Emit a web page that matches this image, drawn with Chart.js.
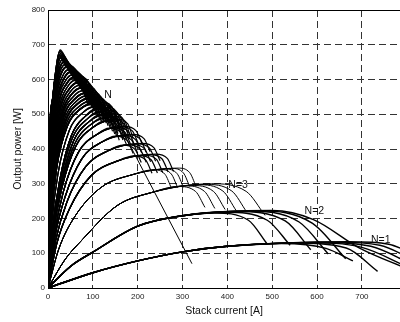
<!DOCTYPE html>
<html>
<head>
<meta charset="utf-8">
<script src="https://cdn.jsdelivr.net/npm/chart.js@4.4.1/dist/chart.umd.min.js"></script>
<style>
  html, body { margin: 0; padding: 0; background: #fff; }
</style>
</head>
<body>
<canvas id="chart" width="400" height="322"></canvas>
<script>
// axis ranges
const xMax = 785;
const yMax = 800;
const xTitle = 'Stack current [A]';
const yTitle = 'Output power [W]';

const origin = [0, 0];

// each group: shared rising part, then one tail (peak, knee, end) per curve
const riseN1 = [[100, 44], [200, 78], [300, 104], [400, 120]];
const tailsN1 = [
  [[520, 128], [620, 114], [680, 78]],
  [[550, 129], [665, 115], [735, 48]],
  [[580, 130], [700, 117], [800, 62]],
  [[610, 131], [720, 120], [810, 70]],
  [[640, 132], [740, 123], [820, 78]],
  [[670, 133], [760, 126], [830, 86]],
];

const riseN2 = [[50, 62], [100, 103], [200, 178], [300, 208]];
const tailsN2 = [
  [[370, 216], [447, 195], [488, 128]],
  [[395, 218], [489, 195], [540, 123]],
  [[420, 220], [529, 193], [586, 110]],
  [[445, 221], [560, 190], [625, 98]],
  [[470, 222], [590, 186], [664, 84]],
  [[500, 223], [592, 197], [696, 114], [800, 56]],
];

const riseN3 = [[38, 82], [75, 137], [154, 237], [229, 274]];
const tailsN3 = [
  [[290, 292], [329, 278], [350, 232]],
  [[305, 294], [349, 278], [372, 229]],
  [[320, 295], [369, 278], [395, 226]],
  [[335, 297], [390, 279], [420, 222]],
  [[350, 298], [410, 279], [443, 219]],
  [[365, 300], [442, 278], [484, 209]],
];

const riseN4 = [[24, 112], [59, 204], [118, 289], [188, 326]];
const tailsN4 = [
  [[235, 340], [261, 327], [275, 288]],
  [[249, 341], [275, 328], [289, 289]],
  [[262, 342], [288, 329], [302, 290]],
  [[276, 344], [302, 331], [316, 292]],
  [[290, 345], [316, 332], [330, 293]],
];

const riseN5 = [[19, 125], [48, 228], [96, 323], [154, 365]];
const tailsN5 = [
  [[192, 380], [218, 368], [232, 330]],
  [[204, 381], [230, 369], [244, 331]],
  [[216, 382], [242, 370], [256, 332]],
  [[228, 384], [254, 372], [268, 334]],
  [[240, 385], [266, 373], [280, 335]],
];

const riseN6 = [[17, 136], [42, 247], [84, 349], [134, 395]];
const tailsN6 = [
  [[168, 411], [194, 399], [208, 361]],
  [[179, 412], [205, 400], [219, 362]],
  [[189, 413], [215, 401], [229, 363]],
  [[200, 415], [226, 403], [240, 365]],
  [[210, 416], [236, 404], [250, 366]],
];

const riseN7 = [[15, 144], [38, 262], [75, 371], [120, 420]];
const tailsN7 = [
  [[150, 437], [176, 425], [190, 387]],
  [[160, 438], [186, 426], [200, 388]],
  [[169, 439], [195, 427], [209, 389]],
  [[179, 441], [205, 429], [219, 391]],
  [[188, 442], [214, 430], [228, 392]],
];

const riseN8 = [[14, 152], [34, 276], [68, 391], [109, 442]];
const tailsN8 = [
  [[136, 460], [162, 448], [176, 410]],
  [[145, 461], [171, 449], [185, 411]],
  [[153, 462], [179, 450], [193, 412]],
  [[162, 464], [188, 452], [202, 414]],
  [[170, 465], [196, 453], [210, 415]],
];

const riseN9 = [[12, 158], [31, 288], [62, 408], [99, 461]];
const tailsN9 = [
  [[124, 480], [147, 467], [159, 425]],
  [[132, 481], [155, 468], [167, 426]],
  [[140, 482], [163, 469], [175, 427]],
  [[147, 484], [170, 471], [182, 429]],
  [[155, 485], [178, 472], [190, 430]],
];

const riseN10 = [[11, 164], [29, 299], [57, 423], [91, 478]];
const tailsN10 = [
  [[114, 498], [137, 485], [149, 443]],
  [[121, 499], [144, 486], [156, 444]],
  [[128, 500], [151, 487], [163, 445]],
  [[135, 502], [158, 489], [170, 447]],
  [[142, 503], [165, 490], [177, 448]],
];

const riseN11 = [[10, 170], [26, 309], [52, 438], [83, 494]];
const tailsN11 = [
  [[104, 515], [127, 502], [139, 460]],
  [[111, 516], [134, 503], [146, 461]],
  [[117, 517], [140, 504], [152, 462]],
  [[124, 519], [147, 506], [159, 464]],
  [[130, 520], [153, 507], [165, 465]],
];

const riseN12 = [[8, 212], [19, 345], [43, 466], [71, 514]];
const tailsN12 = [
  [[95, 530], [118, 517], [130, 475]],
  [[101, 531], [124, 518], [136, 476]],
  [[107, 532], [130, 519], [142, 477]],
  [[113, 534], [136, 521], [148, 479]],
  [[119, 535], [142, 522], [154, 480]],
];

const riseN13 = [[7, 218], [17, 354], [39, 480], [65, 529]];
const tailsN13 = [
  [[86, 545], [107, 529], [119, 480]],
  [[92, 546], [113, 530], [125, 481]],
  [[97, 547], [118, 531], [130, 482]],
  [[103, 549], [124, 533], [136, 484]],
  [[108, 550], [129, 534], [141, 485]],
];

const riseN14 = [[6, 224], [16, 364], [35, 493], [59, 543]];
const tailsN14 = [
  [[78, 560], [99, 544], [111, 495]],
  [[83, 561], [104, 545], [116, 496]],
  [[88, 562], [109, 546], [121, 497]],
  [[92, 564], [113, 548], [125, 499]],
  [[97, 565], [118, 549], [130, 500]],
];

const riseN15 = [[6, 230], [14, 374], [32, 506], [53, 558]];
const tailsN15 = [
  [[70, 575], [91, 559], [103, 510]],
  [[76, 577], [97, 561], [109, 512]],
  [[81, 578], [102, 562], [114, 513]],
  [[87, 580], [108, 564], [120, 515]],
];

const riseN16 = [[5, 236], [12, 384], [28, 519], [47, 572]];
const tailsN16 = [
  [[62, 590], [83, 574], [95, 525]],
  [[67, 592], [88, 576], [100, 527]],
  [[72, 593], [93, 577], [105, 528]],
  [[77, 595], [98, 579], [110, 530]],
];

const riseN17 = [[4, 242], [11, 393], [24, 532], [41, 587]];
const tailsN17 = [
  [[54, 605], [77, 586], [89, 525]],
  [[58, 607], [81, 588], [93, 527]],
  [[63, 608], [86, 589], [98, 528]],
  [[67, 610], [90, 591], [102, 530]],
];

const riseN18 = [[4, 248], [9, 403], [21, 546], [35, 601]];
const tailsN18 = [
  [[46, 620], [64, 604], [81, 560]],
  [[50, 622], [68, 606], [85, 562]],
  [[54, 623], [72, 607], [89, 563]],
  [[58, 625], [76, 609], [93, 565]],
];

const riseN19 = [[3, 254], [8, 413], [18, 559], [29, 616]];
const tailsN19 = [
  [[39, 635], [55, 618], [74, 575]],
  [[42, 637], [58, 620], [77, 577]],
  [[46, 638], [62, 621], [81, 578]],
  [[49, 640], [65, 623], [84, 580]],
];

const riseN20 = [[3, 262], [6, 428], [14, 560], [24, 625]];
const tailsN20 = [
  [[34, 648], [47, 628], [78, 570]],
  [[36, 651], [49, 631], [80, 572]],
  [[38, 653], [51, 633], [82, 573]],
  [[40, 655], [53, 635], [84, 575]],
];

const riseN21 = [[2, 270], [5, 440], [12, 560], [20, 635]];
const tailsN21 = [
  [[28, 662], [40, 640], [68, 585]],
  [[30, 665], [42, 643], [70, 587]],
  [[32, 668], [44, 645], [72, 588]],
  [[33, 670], [46, 646], [74, 590]],
];

const riseN22 = [[2, 280], [4, 455], [10, 540], [17, 620]];
const tailsN22 = [
  [[24, 672], [34, 655], [60, 600]],
  [[25, 678], [36, 658], [62, 602]],
  [[26, 682], [38, 660], [64, 603]],
  [[27, 685], [40, 660], [66, 604]],
];

// the thinner curves that sit between the main high-N groups
const riseM9 = [[11, 161], [30, 294], [60, 416], [95, 470]];
const tailsM9 = [
  [[119, 489], [142, 476], [154, 434]],
  [[134, 491], [157, 478], [169, 436]],
  [[148, 494], [171, 481], [183, 439]],
];
const riseM10 = [[10, 167], [27, 304], [54, 430], [87, 486]];
const tailsM10 = [
  [[109, 506], [132, 493], [144, 451]],
  [[122, 508], [145, 495], [157, 453]],
  [[136, 511], [159, 498], [171, 456]],
];
const riseM11 = [[9, 191], [22, 327], [47, 452], [77, 504]];
const tailsM11 = [
  [[99, 522], [122, 509], [134, 467]],
  [[112, 524], [135, 511], [147, 469]],
  [[124, 527], [147, 514], [159, 472]],
];
const riseM12 = [[7, 215], [18, 349], [41, 473], [68, 521]];
const tailsM12 = [
  [[90, 537], [112, 523], [124, 477]],
  [[102, 539], [124, 525], [136, 479]],
  [[113, 542], [135, 528], [147, 482]],
];
const riseM13 = [[6, 221], [16, 359], [37, 486], [62, 536]];
const tailsM13 = [
  [[82, 552], [103, 536], [115, 487]],
  [[92, 554], [113, 538], [125, 489]],
  [[102, 557], [123, 541], [135, 492]],
];
const riseM14 = [[6, 227], [15, 369], [33, 499], [56, 550]];
const tailsM14 = [
  [[74, 567], [95, 551], [107, 502]],
  [[82, 569], [103, 553], [115, 504]],
  [[92, 572], [113, 556], [125, 507]],
];
const riseM15 = [[5, 233], [13, 379], [30, 512], [50, 565]];
const tailsM15 = [
  [[66, 582], [87, 566], [99, 517]],
  [[71, 584], [92, 568], [104, 519]],
  [[82, 587], [103, 571], [115, 522]],
];
const riseM16 = [[4, 239], [11, 388], [26, 525], [44, 580]];
const tailsM16 = [
  [[58, 597], [80, 580], [92, 525]],
  [[62, 600], [84, 582], [96, 527]],
  [[72, 602], [94, 585], [106, 530]],
];
const riseM17 = [[4, 245], [10, 398], [22, 539], [38, 594]];
const tailsM17 = [
  [[50, 612], [70, 595], [85, 542]],
  [[54, 614], [74, 597], [89, 544]],
  [[62, 617], [83, 600], [97, 547]],
];
const riseM18 = [[3, 251], [8, 408], [19, 552], [32, 608]];
const tailsM18 = [
  [[42, 627], [60, 611], [77, 567]],
  [[46, 629], [63, 613], [81, 569]],
  [[53, 632], [70, 616], [88, 572]],
];
const riseM19 = [[3, 258], [7, 420], [16, 560], [26, 620]];
const tailsM19 = [
  [[36, 641], [51, 623], [76, 572]],
  [[39, 644], [53, 625], [78, 574]],
  [[44, 647], [59, 629], [84, 577]],
];
const riseM20 = [[2, 266], [5, 434], [13, 560], [22, 630]];
const tailsM20 = [
  [[31, 655], [43, 634], [73, 577]],
  [[33, 658], [45, 637], [75, 579]],
  [[36, 662], [49, 640], [79, 582]],
];
const riseM21 = [[2, 275], [4, 448], [11, 550], [18, 628]];
const tailsM21 = [
  [[26, 667], [37, 648], [64, 592]],
  [[27, 671], [39, 650], [66, 594]],
  [[30, 677], [43, 653], [70, 597]],
];

// arrow marking increasing N
const arrowTail = [321, 70];
const arrowHead = [138, 521];

// curve labels
const labelTexts = ['N', 'N=3', 'N=2', 'N=1'];
const labelX = [134, 424, 594, 742];
const labelY = [556, 295, 221, 137];

const groups = [
  [riseN1, tailsN1], [riseN2, tailsN2], [riseN3, tailsN3], [riseN4, tailsN4],
  [riseN5, tailsN5], [riseN6, tailsN6], [riseN7, tailsN7], [riseN8, tailsN8],
  [riseN9, tailsN9], [riseN10, tailsN10], [riseN11, tailsN11], [riseN12, tailsN12],
  [riseN13, tailsN13], [riseN14, tailsN14], [riseN15, tailsN15], [riseN16, tailsN16],
  [riseN17, tailsN17], [riseN18, tailsN18], [riseN19, tailsN19], [riseN20, tailsN20],
  [riseN21, tailsN21], [riseN22, tailsN22],
];

const extraGroups = [
  [riseM9, tailsM9], [riseM10, tailsM10], [riseM11, tailsM11], [riseM12, tailsM12],
  [riseM13, tailsM13], [riseM14, tailsM14], [riseM15, tailsM15], [riseM16, tailsM16],
  [riseM17, tailsM17], [riseM18, tailsM18], [riseM19, tailsM19], [riseM20, tailsM20],
  [riseM21, tailsM21],
];

function toPoints(list) {
  return list.map(([x, y]) => ({ x, y }));
}

// the crowded high-N curves are drawn a little heavier so the fan fills in
function lineWidthFor(index) {
  if (index < 2) return 1.4;
  if (index < 4) return 1;
  if (index < 11) return 1.2;
  return 1.5;
}

const datasets = [];

function addCurves(list, widthOf) {
  list.forEach(([rise, tails], gi) => {
    tails.forEach((tail) => {
      datasets.push({
        data: toPoints([origin, ...rise, ...tail]),
        borderColor: '#000',
        borderWidth: widthOf(gi),
        pointRadius: 0,
        fill: false,
        cubicInterpolationMode: 'monotone',
      });
    });
  });
}

addCurves(groups, lineWidthFor);
addCurves(extraGroups, () => 1.2);

datasets.push({
  data: toPoints([arrowTail, arrowHead]),
  borderColor: '#000',
  borderWidth: 1,
  pointRadius: 0,
  fill: false,
});

const font = '"Liberation Sans", Arial, sans-serif';

const overlay = {
  id: 'overlay',
  afterDatasetsDraw(chart) {
    const { ctx, chartArea: area, scales: { x, y } } = chart;
    ctx.save();

    // top frame line
    ctx.strokeStyle = '#000';
    ctx.lineWidth = 1;
    ctx.beginPath();
    ctx.moveTo(area.left, area.top + 0.5);
    ctx.lineTo(area.right, area.top + 0.5);
    ctx.stroke();

    // arrow head
    const x0 = x.getPixelForValue(arrowTail[0]);
    const y0 = y.getPixelForValue(arrowTail[1]);
    const x1 = x.getPixelForValue(arrowHead[0]);
    const y1 = y.getPixelForValue(arrowHead[1]);
    const ang = Math.atan2(y1 - y0, x1 - x0);
    const len = 8;
    const spread = 0.32;
    ctx.fillStyle = '#000';
    ctx.beginPath();
    ctx.moveTo(x1, y1);
    ctx.lineTo(x1 - len * Math.cos(ang - spread), y1 - len * Math.sin(ang - spread));
    ctx.lineTo(x1 - len * 0.7 * Math.cos(ang), y1 - len * 0.7 * Math.sin(ang));
    ctx.lineTo(x1 - len * Math.cos(ang + spread), y1 - len * Math.sin(ang + spread));
    ctx.closePath();
    ctx.fill();

    // labels
    ctx.fillStyle = '#111';
    ctx.font = `10.5px ${font}`;
    ctx.textAlign = 'center';
    ctx.textBaseline = 'middle';
    labelTexts.forEach((t, i) => {
      ctx.fillText(t, x.getPixelForValue(labelX[i]), y.getPixelForValue(labelY[i]));
    });

    // axis titles
    ctx.fillText(xTitle, (area.left + area.right) / 2, 311);
    ctx.translate(18, (area.top + area.bottom) / 2);
    ctx.rotate(-Math.PI / 2);
    ctx.fillText(yTitle, 0, 0);
    ctx.restore();
  },
};

new Chart(document.getElementById('chart'), {
  type: 'line',
  data: { datasets },
  plugins: [overlay],
  options: {
    responsive: false,
    animation: false,
    events: [],
    layout: { padding: { top: 10, right: 0, left: 0, bottom: 0 } },
    plugins: { legend: { display: false }, tooltip: { enabled: false } },
    scales: {
      x: {
        type: 'linear',
        min: 0,
        max: xMax,
        afterBuildTicks: (scale) => {
          scale.ticks = scale.ticks.filter((t) => t.value % 100 === 0);
        },
        afterFit: (scale) => { scale.height = 34; },
        ticks: { stepSize: 100, color: '#222', font: { size: 8, family: font }, padding: 4, maxRotation: 0 },
        grid: { color: '#333', lineWidth: 1, drawTicks: false },
        border: { display: true, color: '#000', width: 1, dash: [7, 4] },
      },
      y: {
        type: 'linear',
        min: 0,
        max: yMax,
        afterFit: (scale) => { scale.width = 48; },
        ticks: { stepSize: 100, color: '#222', font: { size: 8, family: font }, padding: 3 },
        grid: { color: '#333', lineWidth: 1, drawTicks: false },
        border: { display: true, color: '#000', width: 1, dash: [7, 4] },
      },
    },
  },
});
</script>
</body>
</html>
